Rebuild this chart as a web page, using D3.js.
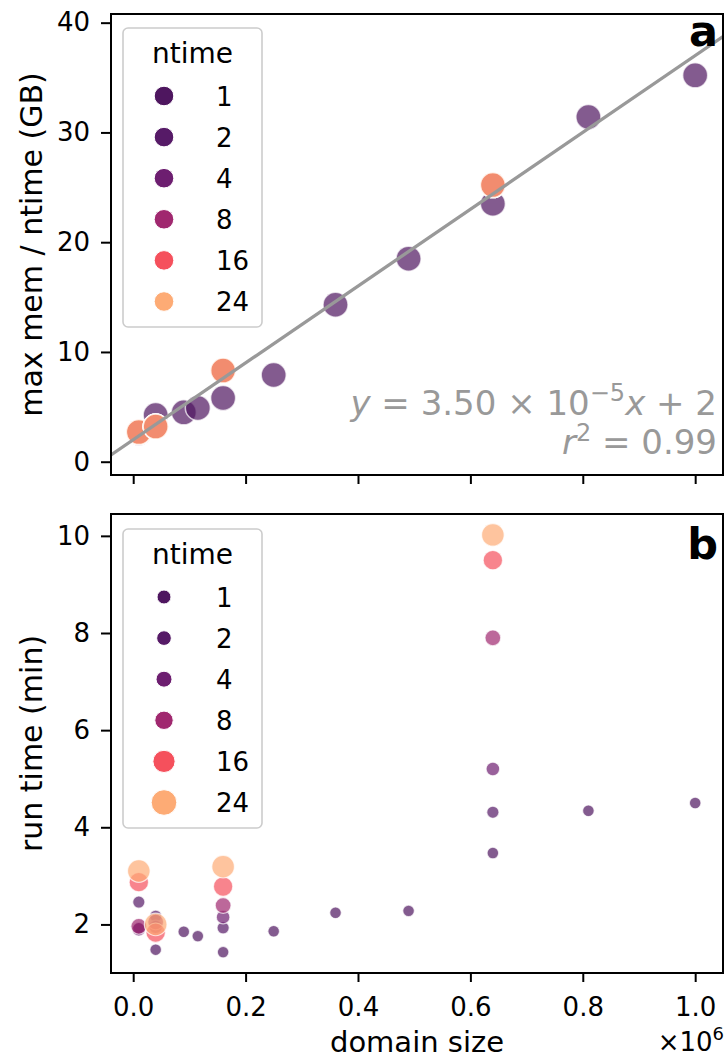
<!DOCTYPE html>
<html>
<head>
<meta charset="utf-8">
<script src="https://cdn.jsdelivr.net/npm/d3@7"></script>
<style>
  html, body { margin: 0; padding: 0; background: #fff; }
  svg { display: block; }
  text { font-family: "DejaVu Sans", sans-serif; }
</style>
</head>
<body>
<svg id="chart" width="726" height="1059"></svg>
<script>
// ---------------- data ----------------
const ntimeLevels = [1, 2, 4, 8, 16, 24];
const ntimeColors = ["#4e165f", "#561a67", "#6d1e70", "#a0286f", "#f5505c", "#fdab75"];

const domainSize = [
  0.01, 0.01, 0.01, 0.01, 0.01, 0.01,
  0.04, 0.04, 0.04, 0.04, 0.04, 0.04,
  0.09, 0.115,
  0.16, 0.16, 0.16, 0.16, 0.16, 0.16,
  0.25, 0.36, 0.49,
  0.64, 0.64, 0.64, 0.64, 0.64, 0.64,
  0.81, 1.0
];
const runNtime = [
  1, 2, 4, 8, 16, 24,
  1, 2, 4, 8, 16, 24,
  1, 1,
  1, 2, 4, 8, 16, 24,
  1, 1, 1,
  1, 2, 4, 8, 16, 24,
  1, 1
];
const memPerNtime = [
  2.6, 2.7, 2.7, 2.7, 2.7, 2.7,
  4.25, 3.2, 3.2, 3.2, 3.2, 3.2,
  4.5, 4.9,
  5.8, 8.3, 8.3, 8.3, 8.3, 8.3,
  7.9, 14.3, 18.5,
  23.5, 25.2, 25.2, 25.2, 25.2, 25.2,
  31.4, 35.2
];
const runTime = [
  1.93, 2.46, 1.9, 1.96, 2.87, 3.1,
  1.48, 2.17, 1.95, 2.05, 1.83, 2.0,
  1.85, 1.76,
  1.43, 1.93, 2.15, 2.39, 2.78, 3.19,
  1.86, 2.24, 2.28,
  3.47, 4.31, 5.2, 7.9, 9.5, 10.02,
  4.34, 4.5
];
const fitSlope = 35;      // GB per 1e6 cells  (3.50e-5 per cell)
const fitIntercept = 2;
const xTicks = [0, 0.2, 0.4, 0.6, 0.8, 1.0];
const yTicksA = [0, 10, 20, 30, 40];
const yTicksB = [2, 4, 6, 8, 10];
// marker radii for panel b (data) and legend b, per ntime level
const sizeB = [5.8, 6.1, 6.8, 7.9, 9.7, 11.3];
const sizeLegB = [7, 7.35, 8, 9.2, 11.1, 12.8];

const runs = domainSize.map((d, i) => ({
  x: d, n: runNtime[i], mem: memPerNtime[i], rt: runTime[i]
}));

// ---------------- layout ----------------
const svg = d3.select("#chart");
const L = 111, R = 723;
const A = {top: 14, bottom: 475};
const B = {top: 514, bottom: 973};
const FS_TICK = 26, FS_LAB = 30, FS_LEG = 26, FS_LEGT = 28;

const x = d3.scaleLinear().domain([-0.0395, 1.0495]).range([L, R]);
const yA = d3.scaleLinear().domain([-1.21, 40.79]).range([A.bottom, A.top]);
const yB = d3.scaleLinear().domain([1.0, 10.45]).range([B.bottom, B.top]);
const color = d3.scaleOrdinal().domain(ntimeLevels).range(ntimeColors);
const rB = d3.scaleOrdinal().domain(ntimeLevels).range(sizeB);
const rLegB = d3.scaleOrdinal().domain(ntimeLevels).range(sizeLegB);

svg.append("rect").attr("width", 726).attr("height", 1059).attr("fill", "#fff");

// clip paths
const defs = svg.append("defs");
defs.append("clipPath").attr("id", "clipA").append("rect")
  .attr("x", L).attr("y", A.top).attr("width", R - L).attr("height", A.bottom - A.top);
defs.append("clipPath").attr("id", "clipB").append("rect")
  .attr("x", L).attr("y", B.top).attr("width", R - L).attr("height", B.bottom - B.top);

function styleAxis(g) {
  g.select(".domain").remove();
  g.selectAll(".tick line").attr("stroke", "#000").attr("stroke-width", 2);
  g.selectAll(".tick text").attr("fill", "#000").attr("font-size", FS_TICK)
    .attr("font-family", "DejaVu Sans");
}

// ---------- Panel a ----------
const gA = svg.append("g");
gA.append("g").attr("clip-path", "url(#clipA)")
  .selectAll("circle").data(runs).join("circle")
  .attr("cx", d => x(d.x)).attr("cy", d => yA(d.mem)).attr("r", 12.5)
  .attr("fill", d => color(d.n)).attr("fill-opacity", 0.7)
  .attr("stroke", "#fff").attr("stroke-opacity", 0.7).attr("stroke-width", 1.5);

const xLine = x.domain();
gA.append("g").attr("clip-path", "url(#clipA)").append("line")
  .attr("x1", x(xLine[0])).attr("y1", yA(fitSlope * xLine[0] + fitIntercept))
  .attr("x2", x(xLine[1])).attr("y2", yA(fitSlope * xLine[1] + fitIntercept))
  .attr("stroke", "#999").attr("stroke-width", 3.3);

gA.append("g").attr("transform", `translate(${L},0)`)
  .call(d3.axisLeft(yA).tickValues(yTicksA).tickSize(10).tickPadding(11).tickFormat(d3.format("d")))
  .call(styleAxis);
gA.append("g").attr("transform", `translate(0,${A.bottom})`)
  .call(d3.axisBottom(x).tickValues(xTicks).tickSize(9).tickFormat(""))
  .call(styleAxis);
gA.append("rect").attr("x", L).attr("y", A.top).attr("width", R - L).attr("height", A.bottom - A.top)
  .attr("fill", "none").attr("stroke", "#000").attr("stroke-width", 2);

gA.append("text").attr("transform", `translate(42,${(A.top + A.bottom) / 2}) rotate(-90)`)
  .attr("text-anchor", "middle").attr("font-size", FS_LAB).attr("fill", "#000")
  .text("max mem / ntime (GB)");

// equation
const eq1 = gA.append("text").attr("x", 717).attr("y", 415).attr("text-anchor", "end")
  .attr("font-size", 34).attr("fill", "#999");
eq1.append("tspan").attr("font-style", "italic").text("y");
eq1.append("tspan").text(" = 3.50 × 10");
eq1.append("tspan").attr("font-size", 24).attr("dy", -14).text("−5");
eq1.append("tspan").attr("font-style", "italic").attr("dy", 14).text("x");
eq1.append("tspan").text(" + 2");
const eq2 = gA.append("text").attr("x", 717).attr("y", 454).attr("text-anchor", "end")
  .attr("font-size", 34).attr("fill", "#999");
eq2.append("tspan").attr("font-style", "italic").text("r");
eq2.append("tspan").attr("font-size", 24).attr("dy", -13).text("2");
eq2.append("tspan").attr("dy", 13).text(" = 0.99");

gA.append("text").attr("x", 718).attr("y", 46).attr("text-anchor", "end")
  .attr("font-size", 43).attr("font-weight", "bold").attr("fill", "#000").text("a");

// ---------- Panel b ----------
const gB = svg.append("g");
gB.append("g").attr("clip-path", "url(#clipB)")
  .selectAll("circle").data(runs).join("circle")
  .attr("cx", d => x(d.x)).attr("cy", d => yB(d.rt)).attr("r", d => rB(d.n))
  .attr("fill", d => color(d.n)).attr("fill-opacity", 0.7)
  .attr("stroke", "#fff").attr("stroke-opacity", 0.7).attr("stroke-width", 1.2);

gB.append("g").attr("transform", `translate(${L},0)`)
  .call(d3.axisLeft(yB).tickValues(yTicksB).tickSize(10).tickPadding(11).tickFormat(d3.format("d")))
  .call(styleAxis);
gB.append("g").attr("transform", `translate(0,${B.bottom})`)
  .call(d3.axisBottom(x).tickValues(xTicks).tickSize(9).tickPadding(16).tickFormat(d3.format(".1f")))
  .call(styleAxis);
gB.append("rect").attr("x", L).attr("y", B.top).attr("width", R - L).attr("height", B.bottom - B.top)
  .attr("fill", "none").attr("stroke", "#000").attr("stroke-width", 2);

gB.append("text").attr("transform", `translate(42,${(B.top + B.bottom) / 2}) rotate(-90)`)
  .attr("text-anchor", "middle").attr("font-size", FS_LAB).attr("fill", "#000")
  .text("run time (min)");
gB.append("text").attr("x", (L + R) / 2).attr("y", 1052).attr("text-anchor", "middle")
  .attr("font-size", FS_LAB - 1).attr("fill", "#000").text("domain size");
const off = gB.append("text").attr("x", 724).attr("y", 1051).attr("text-anchor", "end")
  .attr("font-size", FS_TICK).attr("fill", "#000");
off.append("tspan").text("×10");
off.append("tspan").attr("font-size", 18).attr("dy", -11).text("6");

gB.append("text").attr("x", 718).attr("y", 559).attr("text-anchor", "end")
  .attr("font-size", 43).attr("font-weight", "bold").attr("fill", "#000").text("b");

// ---------- Legends ----------
function legend(top, radiusFn) {
  const g = svg.append("g");
  g.append("rect").attr("x", 123).attr("y", top).attr("width", 139).attr("height", 299)
    .attr("rx", 5).attr("fill", "#fff").attr("fill-opacity", 0.8)
    .attr("stroke", "#ccc").attr("stroke-width", 1.6);
  g.append("text").attr("x", 192.5).attr("y", top + 35).attr("text-anchor", "middle")
    .attr("font-size", FS_LEGT).attr("fill", "#000").text("ntime");
  const rows = g.selectAll("g.row").data(ntimeLevels).join("g").attr("class", "row")
    .attr("transform", (d, i) => `translate(0,${top + 68 + i * 41.1})`);
  rows.append("circle").attr("cx", 164).attr("cy", 0).attr("r", d => radiusFn(d))
    .attr("fill", d => color(d)).attr("stroke", "#fff").attr("stroke-width", 1);
  rows.append("text").attr("x", 216).attr("y", 9.5).attr("font-size", FS_LEG)
    .attr("fill", "#000").text(d => d);
}
legend(28, () => 9.8);
legend(529, d => rLegB(d));
</script>
</body>
</html>
